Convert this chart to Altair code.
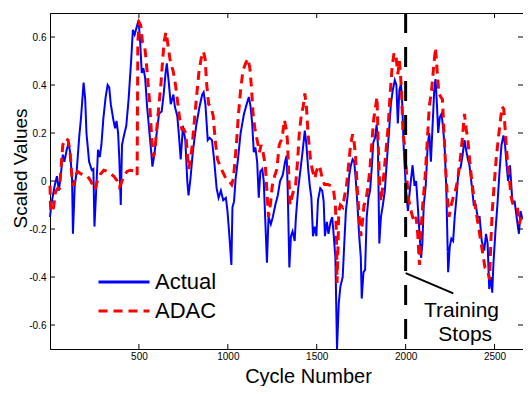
import altair as alt
import pandas as pd

# ---------------- data ----------------
actual_x = [0, 7, 26, 39, 50, 63, 72, 81, 94, 105, 113, 124, 129, 139, 150, 165, 174, 189, 198, 205,
            220, 235, 244, 250, 261, 270, 280, 289, 300, 313, 324, 333, 342, 355, 366, 374, 383, 390, 398, 405,
            416, 429, 442, 457, 466, 476, 487, 498, 507, 516, 525, 535, 546, 557, 568, 576, 587, 600, 613, 628,
            639, 650, 657, 668, 679, 694, 702, 716, 724, 735, 748, 761, 772, 779, 790, 803, 822, 841, 856, 864,
            874, 887, 898, 911, 924, 937, 948, 961, 974, 989, 998, 1009, 1020, 1026, 1035, 1044, 1057, 1072, 1091, 1106,
            1118, 1128, 1137, 1146, 1155, 1165, 1174, 1183, 1194, 1202, 1211, 1220, 1229, 1242, 1253, 1267, 1281, 1294, 1309, 1322,
            1331, 1337, 1346, 1355, 1364, 1376, 1383, 1396, 1409, 1420, 1433, 1442, 1452, 1461, 1470, 1479, 1489, 1498, 1507, 1520,
            1531, 1539, 1546, 1557, 1566, 1578, 1587, 1596, 1605, 1614, 1624, 1633, 1646, 1655, 1664, 1674, 1683, 1692, 1702, 1711,
            1720, 1729, 1739, 1748, 1753, 1763, 1772, 1781, 1791, 1800, 1809, 1818, 1828, 1837, 1844, 1852, 1861, 1872, 1883, 1894,
            1906, 1917, 1928, 1939, 1948, 1956, 1965, 1974, 1981, 1989, 2002, 2013, 2026, 2039, 2050, 2059, 2068, 2078, 2087, 2094,
            2102, 2113, 2124, 2133, 2142, 2152, 2161, 2168, 2176, 2183, 2192, 2202, 2211, 2220, 2229, 2239, 2248, 2257, 2267, 2276,
            2287, 2298, 2309, 2320, 2331, 2340, 2350, 2359, 2372, 2383, 2394, 2405, 2416, 2428, 2442, 2452, 2461, 2470, 2479, 2487,
            2494, 2505, 2516, 2528, 2539, 2550, 2559, 2568, 2576, 2587, 2600, 2613, 2624, 2637, 2646, 2657]
actual_y = [-0.15, -0.10, -0.02, 0.02, -0.04, 0.04, 0.11, 0.08, 0.13, 0.16, 0.12, 0.01, -0.22, -0.02, 0.04, 0.19, 0.26, 0.41, 0.34, 0.20,
            0.08, 0.045, 0.05, -0.19, -0.02, 0.13, 0.10, 0.15, 0.26, 0.35, 0.40, 0.39, 0.32, 0.26, 0.22, 0.25, 0.20, 0.09, -0.10, 0.15,
            0.19, 0.23, 0.34, 0.51, 0.63, 0.61, 0.64, 0.67, 0.58, 0.45, 0.47, 0.43, 0.31, 0.22, 0.13, 0.06, 0.11, 0.20, 0.28, 0.29,
            0.36, 0.45, 0.49, 0.41, 0.32, 0.36, 0.31, 0.27, 0.20, 0.09, 0.23, 0.17, 0.0, -0.06, 0.01, 0.12, 0.23, 0.31, 0.36, 0.37,
            0.32, 0.17, 0.18, 0.17, 0.08, -0.03, -0.07, -0.04, -0.08, -0.07, -0.125, -0.23, -0.35, -0.11, -0.085, 0.01, 0.09, 0.20, 0.28, 0.32,
            0.35, 0.31, 0.24, 0.12, 0.14, 0.08, -0.07, 0.04, 0.05, 0.0, -0.17, -0.34, -0.15, -0.18, -0.15, -0.10, -0.06, 0.0, 0.025, 0.08,
            0.106, -0.04, -0.36, -0.23, -0.21, -0.25, -0.15, -0.03, 0.05, 0.12, 0.21, 0.15, 0.05, -0.02, -0.07, -0.23, -0.19, -0.23, -0.08, -0.03,
            -0.04, -0.085, -0.23, -0.17, -0.22, -0.17, -0.15, -0.23, -0.32, -0.70, -0.51, -0.44, -0.40, -0.26, -0.125, -0.06, 0.025, 0.065, 0.09, 0.08,
            0.0, -0.10, -0.23, -0.32, -0.49, -0.38, -0.37, -0.15, -0.07, -0.04, 0.05, 0.16, 0.18, 0.235, 0.15, -0.26, -0.15, -0.10, -0.04, 0.08,
            0.20, 0.32, 0.38, 0.42, 0.40, 0.24, 0.38, 0.405, 0.32, 0.14, -0.04, -0.125, -0.02, 0.065, -0.02, 0.0, -0.10, -0.22, -0.32, -0.26,
            -0.10, -0.02, 0.15, 0.20, 0.08, 0.24, 0.38, 0.425, 0.32, 0.20, 0.265, 0.28, 0.22, 0.13, -0.04, -0.38, -0.275, -0.24, -0.25, -0.15,
            -0.06, 0.05, 0.055, 0.106, 0.17, 0.13, 0.09, 0.065, -0.02, -0.10, -0.10, -0.15, -0.15, -0.25, -0.29, -0.22, -0.26, -0.45, -0.40, -0.465,
            -0.34, -0.21, -0.10, 0.04, 0.15, 0.19, 0.15, 0.065, 0.0, 0.065, -0.085, -0.085, -0.15, -0.22, -0.125, -0.16]

adac_x = [0, 4, 10, 20, 31, 44, 54, 63, 72, 87, 102, 113, 124, 133, 142, 155, 174, 192, 211, 229,
          242, 253, 266, 285, 303, 322, 340, 359, 378, 390, 400, 414, 433, 451, 483, 490, 494, 502, 510, 520,
          531, 540, 550, 559, 568, 576, 581, 590, 602, 613, 624, 633, 642, 652, 661, 674, 683, 692, 705, 716,
          729, 742, 753, 763, 772, 779, 788, 800, 813, 826, 837, 850, 863, 872, 881, 892, 905, 918, 929, 942,
          955, 970, 989, 1007, 1022, 1031, 1040, 1050, 1059, 1072, 1085, 1100, 1113, 1124, 1133, 1142, 1152, 1165, 1178, 1187,
          1198, 1211, 1220, 1229, 1239, 1250, 1263, 1276, 1289, 1300, 1309, 1318, 1328, 1335, 1342, 1350, 1359, 1368, 1381, 1392,
          1402, 1414, 1424, 1433, 1442, 1452, 1465, 1474, 1489, 1498, 1511, 1520, 1531, 1544, 1563, 1581, 1594, 1605, 1611, 1614,
          1620, 1624, 1633, 1646, 1657, 1668, 1679, 1690, 1702, 1709, 1718, 1727, 1739, 1748, 1757, 1766, 1776, 1787, 1798, 1809,
          1820, 1831, 1839, 1846, 1853, 1861, 1868, 1879, 1890, 1902, 1913, 1924, 1935, 1946, 1956, 1965, 1976, 1985, 1994, 2007,
          2015, 2026, 2039, 2050, 2059, 2068, 2078, 2087, 2096, 2109, 2122, 2133, 2146, 2159, 2168, 2178, 2187, 2198, 2207, 2216,
          2226, 2235, 2244, 2253, 2267, 2279, 2294, 2307, 2318, 2331, 2340, 2350, 2361, 2372, 2387, 2401, 2416, 2431, 2446, 2461,
          2472, 2479, 2487, 2498, 2509, 2520, 2531, 2542, 2552, 2561, 2572, 2583, 2594, 2605, 2616, 2628, 2639, 2650]
adac_y = [-0.02, -0.125, -0.13, -0.11, -0.045, -0.03, -0.03, 0.065, 0.15, 0.177, 0.17, 0.12, 0.01, -0.02, 0.02, 0.04, 0.03, 0.025, 0.02, 0.0,
          -0.02, -0.035, 0.0, 0.03, 0.045, 0.04, 0.03, 0.02, 0.0, -0.025, -0.01, 0.02, 0.04, 0.045, 0.04, 0.025, 0.58, 0.66, 0.65, 0.58,
          0.57, 0.51, 0.42, 0.34, 0.23, 0.13, 0.10, 0.13, 0.23, 0.32, 0.405, 0.50, 0.58, 0.62, 0.58, 0.51, 0.48, 0.46, 0.405, 0.34,
          0.26, 0.215, 0.215, 0.20, 0.12, 0.05, 0.08, 0.15, 0.26, 0.365, 0.45, 0.51, 0.54, 0.51, 0.405, 0.32, 0.31, 0.27, 0.17, 0.09,
          0.065, 0.04, 0.01, 0.0, -0.015, 0.01, 0.08, 0.17, 0.27, 0.38, 0.46, 0.49, 0.51, 0.47, 0.39, 0.28, 0.22, 0.17, 0.12, 0.15,
          0.12, 0.065, -0.045, -0.15, -0.10, -0.02, 0.02, 0.05, 0.15, 0.17, 0.20, 0.255, 0.22, 0.17, 0.04, -0.10, -0.07, -0.045, -0.02, 0.08,
          0.20, 0.28, 0.31, 0.365, 0.31, 0.19, 0.09, 0.05, 0.01, 0.04, 0.065, 0.05, 0.01, -0.015, -0.015, -0.02, -0.035, -0.10, -0.23, -0.425,
          -0.26, -0.125, -0.10, -0.11, -0.06, -0.015, 0.065, 0.15, 0.195, 0.17, 0.106, -0.02, -0.15, -0.23, -0.17, -0.10, -0.085, -0.03, 0.04, 0.15,
          0.255, 0.31, 0.35, 0.15, 0.0, -0.085, -0.045, 0.04, 0.13, 0.23, 0.365, 0.475, 0.535, 0.52, 0.445, 0.50, 0.39, 0.20, 0.15, 0.01,
          -0.07, -0.11, -0.15, -0.17, -0.15, -0.22, -0.35, -0.20, -0.10, 0.01, 0.17, 0.31, 0.38, 0.487, 0.555, 0.45, 0.365, 0.35, 0.34, 0.20,
          0.04, -0.07, -0.15, -0.11, -0.07, -0.045, 0.01, 0.09, 0.17, 0.28, 0.22, 0.17, 0.08, 0.0, -0.085, -0.15, -0.22, -0.29, -0.36, -0.37,
          -0.41, -0.26, -0.125, -0.015, 0.09, 0.17, 0.24, 0.31, 0.30, 0.20, 0.09, 0.01, -0.07, -0.10, -0.10, -0.11, -0.18, -0.15]

series_names = ["Actual", "ADAC"]
series_colors = ["#0000ff", "#ff0000"]
x_ticks = [500, 1000, 1500, 2000, 2500]
y_ticks = [-0.6, -0.4, -0.2, 0.0, 0.2, 0.4, 0.6]
x_domain = [0, 2660]
y_domain = [-0.7, 0.7]
training_stop = [2000]
pointer_x = [2000]
pointer_x2 = [2268]
pointer_y = [-0.384]
pointer_y2 = [-0.468]
note_text = ["Training", "Stops"]
note_x = [2314, 2335]
note_y = [-0.565, -0.667]

# ---------------- chart ----------------
W, H = 473, 336
FONT = "Liberation Sans"
TICK = 5

df_act = pd.DataFrame({"cycle": actual_x, "value": actual_y, "series": "Actual"})
df_adac = pd.DataFrame({"cycle": adac_x, "value": adac_y, "series": "ADAC"})

xscale = alt.Scale(domain=x_domain, nice=False, zero=False)
yscale = alt.Scale(domain=y_domain, nice=False, zero=False)
cscale = alt.Scale(domain=series_names, range=series_colors)
dscale = alt.Scale(domain=series_names, range=[[1, 0], [9, 6]])

x_axis = alt.Axis(values=x_ticks, title="Cycle Number", format="d")
y_axis = alt.Axis(values=y_ticks, title="Scaled Values",
                  labelExpr="datum.value == 0 ? '0' : (datum.value < 0 ? '-' : '') + format(abs(datum.value), '.1f')")

# long horizontal legend stroke drawn by a custom path wider than its nominal box
leg = alt.Legend(title=None, orient="none", legendX=62, legendY=257,
                 symbolType="M-2.5,0L2.5,0", symbolSize=416, symbolStrokeWidth=3,
                 labelFont=FONT, labelFontSize=22, labelColor="black", labelOffset=19,
                 rowPadding=6, padding=0)

C = alt.Color("series:N", scale=cscale, legend=leg)
D = alt.StrokeDash("series:N", scale=dscale, legend=leg)

actual_line = alt.Chart(df_act).mark_line(strokeWidth=2).encode(
    x=alt.X("cycle:Q", scale=xscale, axis=x_axis),
    y=alt.Y("value:Q", scale=yscale, axis=y_axis),
    color=C, strokeDash=D)
adac_line = alt.Chart(df_adac).mark_line(strokeWidth=3).encode(
    x=alt.X("cycle:Q", scale=xscale),
    y=alt.Y("value:Q", scale=yscale),
    color=C, strokeDash=D)

stop_rule = alt.Chart(pd.DataFrame({"cycle": training_stop})).mark_rule(
    color="black", strokeWidth=3, strokeDash=[20, 14]).encode(
    x=alt.X("cycle:Q", scale=xscale))

pointer = alt.Chart(pd.DataFrame({"cycle": pointer_x, "x2": pointer_x2, "value": pointer_y, "y2": pointer_y2})).mark_rule(
    color="black", strokeWidth=2).encode(
    x=alt.X("cycle:Q", scale=xscale), x2="x2:Q",
    y=alt.Y("value:Q", scale=yscale), y2="y2:Q")

note = alt.Chart(pd.DataFrame({"cycle": note_x, "value": note_y, "t": note_text})).mark_text(
    font=FONT, fontSize=21, color="black", align="center", baseline="alphabetic").encode(
    x=alt.X("cycle:Q", scale=xscale), y=alt.Y("value:Q", scale=yscale), text="t:N")

xt = pd.DataFrame({"cycle": x_ticks})
yt = pd.DataFrame({"value": y_ticks})
xt_bottom = alt.Chart(xt).mark_rule(color="black", strokeWidth=1).encode(
    x=alt.X("cycle:Q", scale=xscale), y=alt.value(H), y2=alt.value(H - TICK))
xt_top = alt.Chart(xt).mark_rule(color="black", strokeWidth=1).encode(
    x=alt.X("cycle:Q", scale=xscale), y=alt.value(0), y2=alt.value(TICK))
yt_left = alt.Chart(yt).mark_rule(color="black", strokeWidth=1).encode(
    y=alt.Y("value:Q", scale=yscale), x=alt.value(0), x2=alt.value(TICK))
yt_right = alt.Chart(yt).mark_rule(color="black", strokeWidth=1).encode(
    y=alt.Y("value:Q", scale=yscale), x=alt.value(W), x2=alt.value(W - TICK))

chart = alt.layer(
    actual_line, adac_line, stop_rule, pointer, note, xt_bottom, xt_top, yt_left, yt_right
).properties(
    width=W, height=H,
    autosize=alt.AutoSizeParams(type="none"),
    padding={"left": 42, "top": 5, "right": 0, "bottom": 37},
    background="white",
).configure_view(
    stroke="black", strokeWidth=1
).configure_axis(
    grid=False, ticks=False, domainColor="black",
    labelFont=FONT, labelFontSize=10, labelColor="black",
    titleFont=FONT, titleFontWeight="normal", titleColor="black"
).configure_axisX(
    labelPadding=2, titleFontSize=20,
    titleX=258, titleY=33, titleAlign="center", titleBaseline="alphabetic"
).configure_axisY(
    labelPadding=4, titleFontSize=19,
    titleAngle=270, titleX=-24, titleY=155, titleAlign="center", titleBaseline="alphabetic"
)

chart.save("out.html", embed_options={"renderer": "svg", "actions": False})
